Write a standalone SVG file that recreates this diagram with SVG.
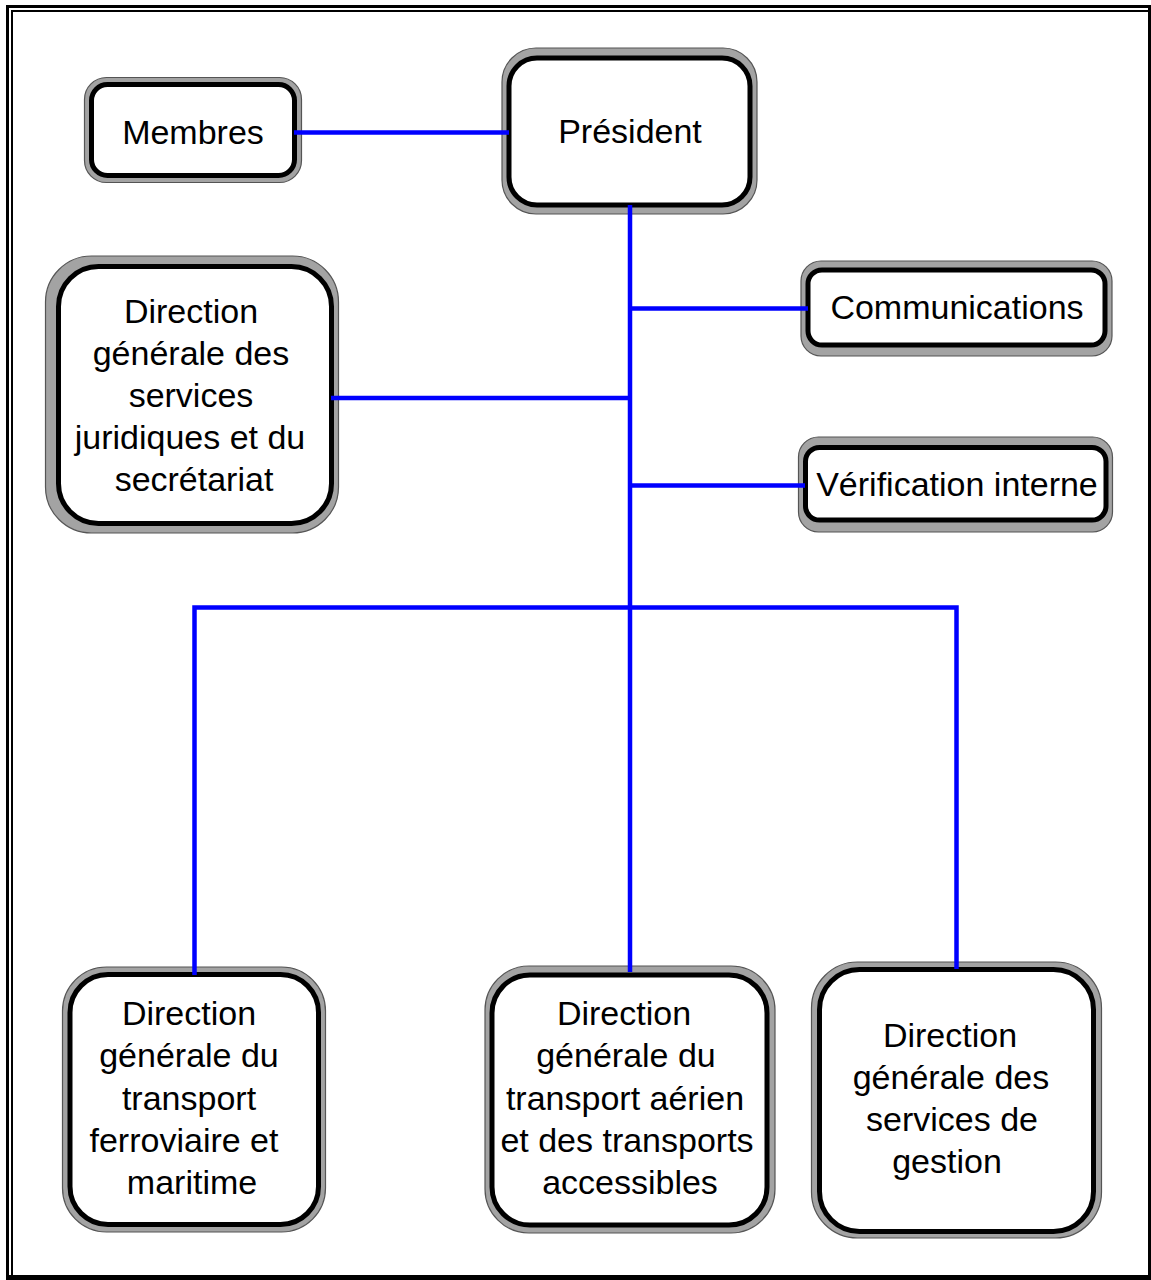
<svg xmlns="http://www.w3.org/2000/svg" width="1151" height="1280" viewBox="0 0 1151 1280">
<style>
.sh{fill:#a3a3a3;stroke:#555;stroke-width:1.2}
.bx{fill:#fff;stroke:#000;stroke-width:5}
.t{font-family:"Liberation Sans",Arial,sans-serif;font-size:34px;fill:#000;text-anchor:middle}
.c{fill:none;stroke:#0000ff;stroke-width:4.5;stroke-linejoin:miter}
.fr{fill:#000}
</style>
<rect width="1151" height="1280" fill="#fff"/>
<g id="frame">
<rect class="fr" x="6" y="5" width="1145" height="3"/>
<rect class="fr" x="6" y="5" width="3" height="1275"/>
<rect class="fr" x="11" y="10" width="1140" height="2"/>
<rect class="fr" x="11" y="10" width="2" height="1270"/>
<rect class="fr" x="1148" y="5" width="3" height="1275"/>
<rect class="fr" x="6" y="1275" width="1145" height="5"/>
</g>
<g id="n-membres">
<rect class="sh" x="84.5" y="77.5" width="217" height="105" rx="22"/>
<rect class="bx" x="91.5" y="84.5" width="203" height="91" rx="16"/>
<text class="t" x="193" y="144">Membres</text>
</g>
<g id="n-president">
<rect class="sh" x="502" y="48" width="255" height="166" rx="34"/>
<rect class="bx" x="509" y="58" width="241" height="147" rx="28"/>
<text class="t" x="630" y="143">Président</text>
</g>
<g id="n-communications">
<rect class="sh" x="801" y="261" width="311" height="95" rx="20"/>
<rect class="bx" x="808" y="270" width="297" height="75" rx="14"/>
<text class="t" x="957" y="319">Communications</text>
</g>
<g id="n-verification">
<rect class="sh" x="798.5" y="437" width="314" height="95" rx="20"/>
<rect class="bx" x="805.5" y="447.5" width="300.5" height="72.5" rx="14"/>
<text class="t" x="957" y="496">Vérification interne</text>
</g>
<g id="n-juridique">
<rect class="sh" x="45.5" y="256" width="293" height="277" rx="46"/>
<rect class="bx" x="58.5" y="266.5" width="273" height="257" rx="40"/>
<text class="t" x="191" y="323">Direction</text>
<text class="t" x="191" y="365">générale des</text>
<text class="t" x="191" y="407">services</text>
<text class="t" x="190" y="449">juridiques et du</text>
<text class="t" x="194" y="491">secrétariat</text>
</g>
<g id="n-ferroviaire">
<rect class="sh" x="62.5" y="967" width="263" height="265" rx="44"/>
<rect class="bx" x="70" y="974.5" width="248.5" height="250" rx="38"/>
<text class="t" x="189" y="1025">Direction</text>
<text class="t" x="189" y="1067">générale du</text>
<text class="t" x="189" y="1110">transport</text>
<text class="t" x="184" y="1152">ferroviaire et</text>
<text class="t" x="192" y="1194">maritime</text>
</g>
<g id="n-aerien">
<rect class="sh" x="485" y="966" width="290" height="267" rx="44"/>
<rect class="bx" x="492" y="975" width="275" height="250" rx="38"/>
<text class="t" x="624" y="1025">Direction</text>
<text class="t" x="626" y="1067">générale du</text>
<text class="t" x="625" y="1110">transport aérien</text>
<text class="t" x="627" y="1152">et des transports</text>
<text class="t" x="630" y="1194">accessibles</text>
</g>
<g id="n-gestion">
<rect class="sh" x="811.5" y="962" width="290" height="276" rx="46"/>
<rect class="bx" x="819.5" y="969.5" width="274" height="262" rx="40"/>
<text class="t" x="950" y="1047">Direction</text>
<text class="t" x="951" y="1089">générale des</text>
<text class="t" x="952" y="1131">services de</text>
<text class="t" x="947" y="1173">gestion</text>
</g>
<g id="connectors">
<path class="c" d="M294 132.5H509"/>
<path class="c" d="M630 205V972"/>
<path class="c" d="M630 308.5H808"/>
<path class="c" d="M630 485.5H805"/>
<path class="c" d="M331 398H630"/>
<path class="c" d="M194.5 975V607.5H956.5V969"/>
</g>
</svg>
